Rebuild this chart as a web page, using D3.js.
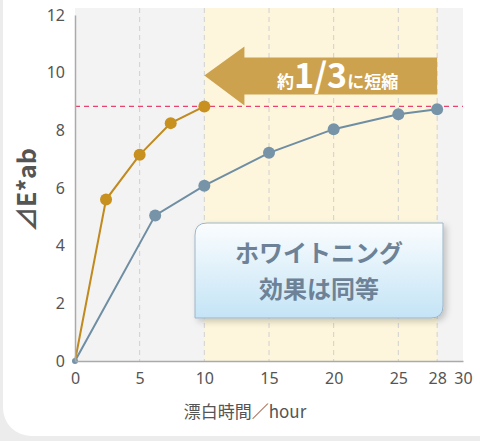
<!DOCTYPE html><html><head><meta charset="utf-8"><script src="https://cdn.jsdelivr.net/npm/d3@7"></script>
<style>body{margin:0;background:#ececec}svg{display:block}</style></head><body><svg id="c" width="480" height="441"></svg>
<script>
const xTicks=[0,5,10,15,20,25,28,30];
const yTicks=[0,2,4,6,8,10,12];
const fastX=[0,2.4,5,7.4,10];
const fastY=[0,5.6,7.15,8.25,8.83];
const slowX=[0,6.2,10,15,20,25,28];
const slowY=[0,5.05,6.08,7.22,8.04,8.56,8.73];
const refY=8.83;
const svg=d3.select("#c");
const F="'Noto Sans CJK JP','Noto Sans',sans-serif";
svg.append("rect").attr("x",3).attr("y",-30).attr("width",520).attr("height",466).attr("rx",28).attr("fill","#fff");
const x=d3.scaleLinear().domain([0,30]).range([75,463]);
const y=d3.scaleLinear().domain([0,12]).range([361,15]);
svg.append("rect").attr("x",x(0)).attr("y",8).attr("width",x(30)-x(0)).attr("height",y(0)-8).attr("fill","#f3f3f3");
svg.append("rect").attr("x",x(10)).attr("y",8).attr("width",x(28)-x(10)).attr("height",y(0)-8).attr("fill","#fdf6dc");
svg.selectAll(".g").data([5,10,15,20,25,28]).join("line").attr("x1",d=>x(d)).attr("x2",d=>x(d)).attr("y1",8).attr("y2",y(0)).attr("stroke","#d0d0d0").attr("stroke-dasharray","5,4");
const ay=y(9.9);
svg.append("path").attr("d",`M${x(10)},${ay} L${x(13.1)},${ay-29} L${x(13.1)},${ay-18} L${x(28)},${ay-18} L${x(28)},${ay+19} L${x(13.1)},${ay+19} L${x(13.1)},${ay+30} Z`).attr("fill","#cda24f");
const at=svg.append("text").attr("x",x(20.3)).attr("y",ay+12).attr("text-anchor","middle").attr("fill","#fff").attr("font-family",F).attr("font-weight","bold");
at.append("tspan").attr("font-size",17).text("約");
at.append("tspan").attr("font-size",34).text("1/3");
at.append("tspan").attr("font-size",17).text("に短縮");
svg.append("line").attr("x1",x(0)).attr("x2",x(30)).attr("y1",y(refY)).attr("y2",y(refY)).attr("stroke","#e8436e").attr("stroke-width",1.2).attr("stroke-dasharray","5,4");
const line=d3.line().x(d=>x(d[0])).y(d=>y(d[1]));
const fast=fastX.map((d,i)=>[d,fastY[i]]), slow=slowX.map((d,i)=>[d,slowY[i]]);
svg.append("path").attr("d",line(slow)).attr("fill","none").attr("stroke","#6f8ea3").attr("stroke-width",2);
svg.append("path").attr("d",line(fast)).attr("fill","none").attr("stroke","#c08a1e").attr("stroke-width",2);
svg.selectAll(".s").data(slow.slice(1)).join("circle").attr("cx",d=>x(d[0])).attr("cy",d=>y(d[1])).attr("r",6).attr("fill","#7693a8");
svg.selectAll(".f").data(fast.slice(1)).join("circle").attr("cx",d=>x(d[0])).attr("cy",d=>y(d[1])).attr("r",6).attr("fill","#c8901f");
svg.append("circle").attr("cx",x(0)).attr("cy",y(0)).attr("r",3).attr("fill","#7693a8");
const defs=svg.append("defs");
const g=defs.append("linearGradient").attr("id","bg").attr("x1",0).attr("x2",0).attr("y1",0).attr("y2",1);
g.append("stop").attr("offset",0).attr("stop-color","#fbfdfe");g.append("stop").attr("offset",1).attr("stop-color","#c4e4f6");
defs.append("filter").attr("id","sh").append("feDropShadow").attr("dx",3).attr("dy",3).attr("stdDeviation",3).attr("flood-color","#000").attr("flood-opacity",0.2);
svg.append("path").attr("d","M207,223 L443,223 L443,306 Q443,318 431,318 L195,318 L195,235 Q195,223 207,223 Z").attr("fill","url(#bg)").attr("stroke","#9cb6c9").attr("filter","url(#sh)");
svg.append("text").attr("x",319).attr("y",262).attr("text-anchor","middle").attr("font-family",F).attr("font-weight","bold").attr("font-size",24).attr("fill","#6d8296").text("ホワイトニング");
svg.append("text").attr("x",319).attr("y",298).attr("text-anchor","middle").attr("font-family",F).attr("font-weight","bold").attr("font-size",24).attr("fill","#6d8296").text("効果は同等");
const xa=svg.append("g").attr("transform",`translate(0,${y(0)})`).call(d3.axisBottom(x).tickValues(xTicks).tickSize(0).tickPadding(12));
const ya=svg.append("g").attr("transform",`translate(${x(0)},0)`).call(d3.axisLeft(y).tickValues(yTicks).tickSize(0).tickPadding(10));
[xa,ya].forEach(a=>{a.select(".domain").attr("stroke","#aaa").attr("stroke-width",1.5);a.selectAll("text").attr("font-family","'Noto Sans',sans-serif").attr("font-size",16).attr("fill","#555");});
svg.append("text").attr("x",245).attr("y",418).attr("text-anchor","middle").attr("font-family",F).attr("font-size",17).attr("fill","#555").text("漂白時間／hour");
svg.append("text").attr("transform","translate(36,190) rotate(-90)").attr("text-anchor","middle").attr("font-family","'Noto Sans CJK JP',sans-serif").attr("font-size",25).attr("font-weight","bold").attr("fill","#555").text("⊿E*ab");
</script></body></html>
